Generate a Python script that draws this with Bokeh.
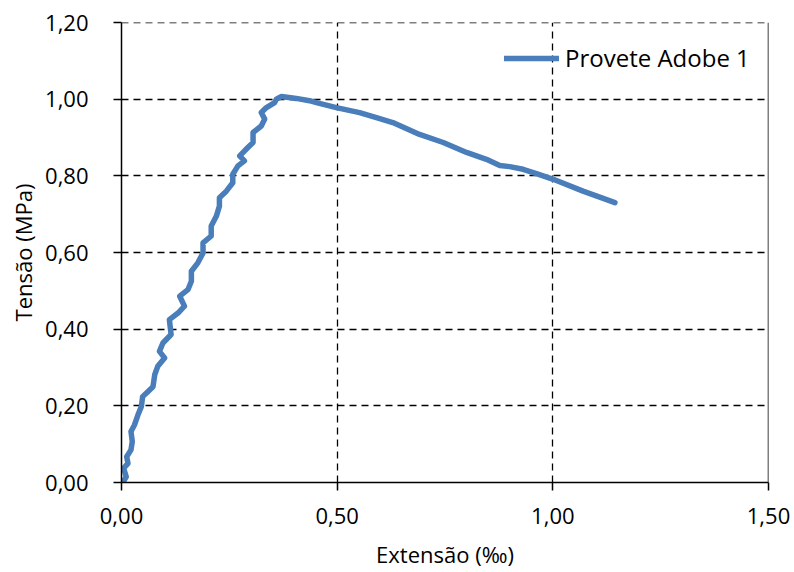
from bokeh.plotting import figure
from bokeh.models import FixedTicker, Span, Legend, LegendItem, Range1d
from bokeh.embed import file_html
from bokeh.resources import INLINE

# Data
extensao = [0.003, 0.011, 0.005, 0.015, 0.012, 0.022, 0.025, 0.022, 0.030, 0.038,
            0.046, 0.049, 0.061, 0.073, 0.077, 0.084, 0.100, 0.088, 0.096, 0.115,
            0.111, 0.131, 0.146, 0.135, 0.154, 0.162, 0.162, 0.177, 0.189, 0.189,
            0.208, 0.208, 0.220, 0.227, 0.227, 0.243, 0.258, 0.258, 0.270, 0.285,
            0.274, 0.293, 0.305, 0.305, 0.324, 0.332, 0.324, 0.336, 0.355, 0.359,
            0.371, 0.405, 0.436, 0.452, 0.498, 0.552, 0.591, 0.629, 0.691, 0.746,
            0.800, 0.846, 0.877, 0.900, 0.931, 0.962, 1.001, 1.070, 1.144]
tensao = [0.000, 0.015, 0.037, 0.050, 0.067, 0.085, 0.107, 0.133, 0.150, 0.176,
          0.198, 0.224, 0.237, 0.250, 0.281, 0.303, 0.325, 0.342, 0.364, 0.386,
          0.425, 0.442, 0.460, 0.486, 0.503, 0.525, 0.551, 0.573, 0.599, 0.625,
          0.643, 0.669, 0.695, 0.721, 0.743, 0.760, 0.782, 0.804, 0.826, 0.839,
          0.852, 0.874, 0.887, 0.913, 0.930, 0.948, 0.965, 0.978, 0.991, 1.000,
          1.007, 1.002, 0.996, 0.991, 0.978, 0.965, 0.952, 0.939, 0.908, 0.887,
          0.861, 0.843, 0.827, 0.824, 0.817, 0.806, 0.791, 0.760, 0.730]
series_name = "Provete Adobe 1"

x_ticks = [0.0, 0.5, 1.0, 1.5]
x_tick_labels = ["0,00", "0,50", "1,00", "1,50"]
y_ticks = [0.0, 0.2, 0.4, 0.6, 0.8, 1.0, 1.2]
y_tick_labels = ["0,00", "0,20", "0,40", "0,60", "0,80", "1,00", "1,20"]
x_title = "Extensão (‰)"
y_title = "Tensão (MPa)"

FONT = "Open Sans"
BLUE = "#4a7ebb"

p = figure(frame_width=647, frame_height=460, output_backend="svg",
           toolbar_location=None,
           x_range=Range1d(0, 1.5), y_range=Range1d(0, 1.2),
           min_border_left=121, min_border_right=22, min_border_top=22,
           min_border_bottom=60)
p.outline_line_color = None
p.background_fill_color = "white"
p.border_fill_color = "white"

r = p.line(extensao, tensao, line_color=BLUE, line_width=5.5, line_cap="round",
           line_join="round")

for ax, ticks, labels in ((p.xaxis[0], x_ticks, x_tick_labels),
                          (p.yaxis[0], y_ticks, y_tick_labels)):
    ax.ticker = FixedTicker(ticks=ticks)
    ax.major_label_overrides = {t: l for t, l in zip(ticks, labels)}
    ax.axis_line_color = "black"
    ax.axis_line_width = 1.5
    ax.major_tick_line_color = "black"
    ax.major_tick_line_width = 1.5
    ax.major_tick_out = 8
    ax.major_tick_in = 0
    ax.minor_tick_line_color = None
    ax.major_label_text_font = FONT
    ax.major_label_text_font_size = "22px"
    ax.major_label_text_color = "black"
    ax.axis_label_text_font = FONT
    ax.axis_label_text_font_size = "22px"
    ax.axis_label_text_font_style = "normal"
    ax.axis_label_text_color = "black"

p.xaxis.axis_label = x_title
p.yaxis.axis_label = y_title
p.xaxis.major_label_standoff = 17
p.xaxis.axis_label_standoff = 12
p.yaxis.major_label_standoff = 25
p.yaxis.axis_label_standoff = 4

for g in (p.xgrid[0], p.ygrid[0]):
    g.grid_line_color = "black"
    g.grid_line_dash = "7 5"
    g.grid_line_width = 1.3

p.add_layout(Span(location=1.2, dimension="width", line_color="black",
                  line_width=1.3, line_dash="7 5"))
p.add_layout(Span(location=1.5, dimension="height", line_color="black", line_width=1.5))

legend = Legend(items=[LegendItem(label=series_name, renderers=[r])],
                background_fill_alpha=0, border_line_color=None,
                label_text_font=FONT, label_text_font_size="24px",
                label_text_color="black",
                glyph_width=55, glyph_height=20, padding=0, margin=0,
                label_standoff=6)
legend.location = (383, 408)
p.add_layout(legend)

open("out.html", "w").write(file_html(p, INLINE))
